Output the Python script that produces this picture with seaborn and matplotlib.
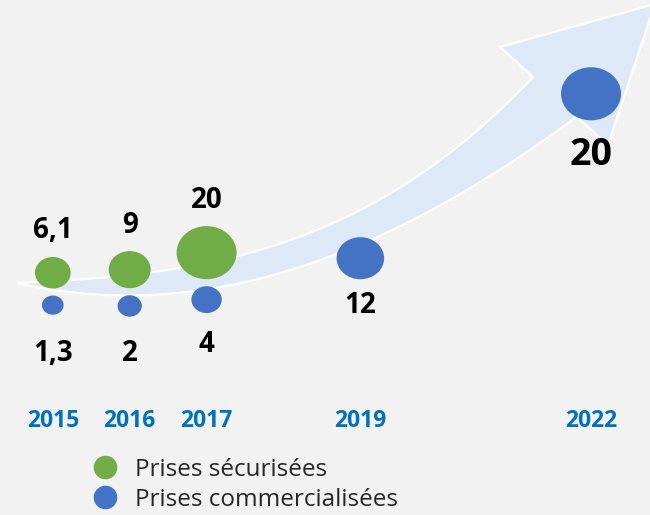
import numpy as np
import pandas as pd
import matplotlib.pyplot as plt
import seaborn as sns
from matplotlib.path import Path
from matplotlib.patches import Polygon
from matplotlib.lines import Line2D
from matplotlib.transforms import Affine2D

# data
series_names = ["Prises sécurisées", "Prises commercialisées"]
years_secured = [2015, 2016, 2017]
secured = [6.1, 9, 20]
years_sold = [2015, 2016, 2017, 2019, 2022]
sold = [1.3, 2, 4, 12, 20]
year_ticks = [2015, 2016, 2017, 2019, 2022]

palette = {series_names[0]: "#70ad47", series_names[1]: "#4472c4"}

# arrow outline (decoration), in pixels of the 650x515 picture
arrow_top_x = [19, 100, 200, 250, 330, 397, 480, 533]
arrow_top_y = [282, 280, 265, 250, 223, 193, 127, 77]
arrow_bot_x = [19, 67, 133, 200, 267, 330, 340, 430, 480, 577]
arrow_bot_y = [283, 293, 295, 290, 273, 260, 255, 210, 180, 117]
arrow_head = [(533, 77), (500, 47), (655, 4), (608, 145), (577, 117)]

# year -> pixel column of the picture
PX0, PX_PER_YEAR = 52.8, 76.89
PT = 100 / 72


def to_year(px):
    return 2015 + (np.asarray(px, dtype=float) - PX0) / PX_PER_YEAR


def to_px(year):
    return PX0 + (np.asarray(year, dtype=float) - 2015) * PX_PER_YEAR


top_fit = np.polyfit(arrow_top_x, arrow_top_y, 3)
bot_fit = np.polyfit(arrow_bot_x, arrow_bot_y, 3)


def spine(px):
    return (np.polyval(top_fit, px) + np.polyval(bot_fit, px)) / 2


sns.set_theme(style="white")
plt.rcParams["font.family"] = ["Open Sans", "DejaVu Sans"]

fig = plt.figure(figsize=(6.5, 5.15), dpi=100, facecolor="#f2f2f2")
ax_bottom = 402
ax = fig.add_axes([0, (515 - ax_bottom) / 515, 1, ax_bottom / 515])
ax.set_facecolor("#f2f2f2")
ax.set_xlim(to_year(0), to_year(650))
ax.set_ylim(ax_bottom, 0)

# curved arrow
xt = np.linspace(19, 533, 80)
xb = np.linspace(577, 19, 80)
outline = np.vstack([
    np.column_stack([xt, np.polyval(top_fit, xt)]),
    arrow_head,
    np.column_stack([xb, np.polyval(bot_fit, xb)]),
])
outline[:, 0] = to_year(outline[:, 0])
ax.add_patch(Polygon(outline, closed=True, fc="#dde9f6", ec="white", lw=1.6,
                     zorder=1, clip_on=False))

# bubbles
df = pd.concat([
    pd.DataFrame({"year": years_secured, "value": secured, "series": series_names[0]}),
    pd.DataFrame({"year": years_sold, "value": sold, "series": series_names[1]}),
], ignore_index=True)

size_range = (243, 1866)
aspect = 1.13
s = np.interp(df["value"], [df["value"].min(), df["value"].max()], size_range)
r = np.sqrt(s) * PT / aspect / 2  # vertical radius in px
mid = spine(to_px(df["year"]))
green = df["series"] == series_names[0]
df["y"] = np.where(green, mid - r + 3, mid + r + 10)

ellipse = Path.unit_circle().transformed(Affine2D().scale(aspect, 1.0))
sns.scatterplot(data=df, x="year", y="y", hue="series", palette=palette,
                size="value", sizes=size_range, marker=ellipse, linewidth=0,
                legend=False, ax=ax, zorder=3)

# value labels
last = len(df) - 1
for i, row in df.iterrows():
    fs = 27 if i == last else 20
    gap = 1.3 * fs
    if green[i]:
        ty = row["y"] - r[i] - gap
    else:
        ty = max(row["y"] + r[i] + gap, mid[i] + 68)
    ax.text(row["year"], ty, f"{row['value']:g}".replace(".", ","),
            ha="center", va="center", fontsize=fs, fontweight="bold",
            color="black", zorder=4)

ax.set_xticks(year_ticks)
ax.set_xticklabels([str(y) for y in year_ticks], color="#0070c0",
                   fontweight="bold", fontsize=16.5)
ax.tick_params(axis="x", length=0, pad=4.75)
ax.set_yticks([])
ax.set_xlabel("")
ax.set_ylabel("")
for sp in ax.spines.values():
    sp.set_visible(False)

handles = [Line2D([], [], ls="", marker="o", ms=17, color=palette[n], mec="none")
           for n in series_names]
fig.legend(handles, series_names, loc="upper left",
           bbox_to_anchor=(93 / 650, 1 - 458 / 515), frameon=False,
           fontsize=17.5, handlelength=1.0, handletextpad=0.72,
           labelspacing=0.24, borderpad=0, borderaxespad=0)

fig.savefig("out.png", dpi=100, facecolor=fig.get_facecolor())
